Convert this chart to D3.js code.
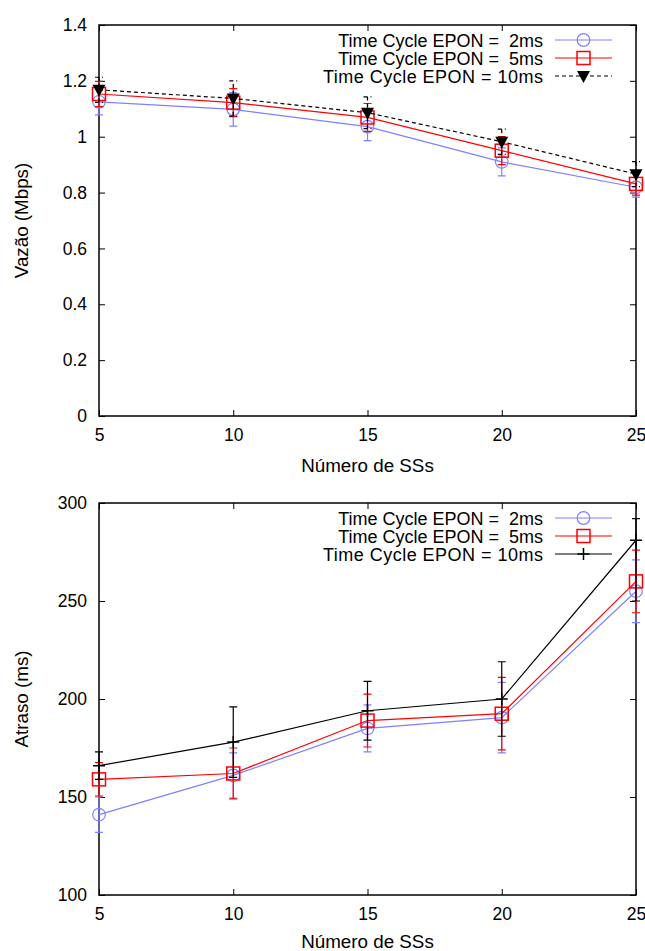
<!DOCTYPE html>
<html>
<head>
<meta charset="utf-8">
<script src="https://cdn.jsdelivr.net/npm/d3@7"></script>
<style>
  body { margin: 0; background: #fff; }
  text { font-family: "Liberation Sans", Arial, sans-serif; fill: #000; }
</style>
</head>
<body>
<script>
var w = 645;
var h = 951;
var fs = 18.8;
var legendFs = 18;
var tickFs = 17.5;

// data
var ssCounts = [5, 10, 15, 20, 25];
var seriesNames = ["Time Cycle EPON =  2ms", "Time Cycle EPON =  5ms", "Time Cycle EPON = 10ms"];

var vazao2 = [1.125, 1.098, 1.036, 0.910, 0.819];
var vazao5 = [1.153, 1.122, 1.069, 0.950, 0.831];
var vazao10 = [1.168, 1.137, 1.086, 0.982, 0.866];
var vazaoErr2 = [0.047, 0.060, 0.050, 0.050, 0.035];
var vazaoErr5 = [0.045, 0.050, 0.050, 0.050, 0.040];
var vazaoErr10 = [0.045, 0.063, 0.057, 0.045, 0.045];

var atraso2 = [141, 161, 185, 190.5, 255];
var atraso5 = [159, 162, 189, 192.5, 260];
var atraso10 = [166, 178, 194, 200, 281];
var atrasoLow2 = [9, 11.5, 12, 18, 16];
var atrasoHigh2 = [9, 11.5, 12, 18, 16];
var atrasoLow5 = [8.5, 13, 13.5, 18.5, 16];
var atrasoHigh5 = [8.5, 13, 13.5, 18.5, 16];
var atrasoLow10 = [7, 18, 15, 19, 31];
var atrasoHigh10 = [7, 18, 15, 19, 11];

var vazaoTicks = [0, 0.2, 0.4, 0.6, 0.8, 1, 1.2, 1.4];
var atrasoTicks = [100, 150, 200, 250, 300];

var svg = d3.select("body")
    .append("svg")
    .attr("width", w)
    .attr("height", h);

var colors = ["#8080ff", "#ff0000", "#000000"];

function makeSeries(vals, lo, hi) {
    return ssCounts.map(function(x, i) {
        return {x: x, y: vals[i], lo: vals[i] - lo[i], hi: vals[i] + hi[i]};
    });
}

function drawMarker(g, kind, color, cx, cy) {
    if (kind == "circle") {
        g.append("circle").attr("cx", cx).attr("cy", cy).attr("r", 6.3)
            .attr("fill", "none").attr("stroke", color).attr("stroke-width", 1.2);
    } else if (kind == "square") {
        g.append("rect").attr("x", cx - 6.5).attr("y", cy - 6.5)
            .attr("width", 13).attr("height", 13)
            .attr("fill", "none").attr("stroke", color).attr("stroke-width", 1.5);
    } else if (kind == "triangle") {
        g.append("path")
            .attr("d", "M" + (cx - 6.5) + "," + (cy - 5) + "L" + (cx + 6.5) + "," + (cy - 5) + "L" + cx + "," + (cy + 7) + "Z")
            .attr("fill", color);
    } else if (kind == "plus") {
        g.append("path")
            .attr("d", "M" + (cx - 6) + "," + cy + "H" + (cx + 6) + "M" + cx + "," + (cy - 6) + "V" + (cy + 6))
            .attr("stroke", color).attr("stroke-width", 1.5);
    }
}

function styleAxis(a) {
    a.select(".domain").remove();
    a.selectAll("line").attr("stroke", "#000");
    a.selectAll("text").attr("font-size", tickFs).attr("font-family", "Liberation Sans, Arial, sans-serif");
}

function chart(opts) {
    var top = opts.top, bottom = opts.bottom, left = 99, right = 636;
    var x = d3.scaleLinear().domain([5, 25]).range([left, right]);
    var y = d3.scaleLinear().domain(opts.domain).range([bottom, top]);
    var g = svg.append("g");

    // axes, with mirrored ticks on top and right
    g.append("g").attr("transform", "translate(0," + bottom + ")")
        .call(d3.axisBottom(x).tickValues(ssCounts).tickSize(-6).tickPadding(13))
        .call(styleAxis);
    g.append("g").attr("transform", "translate(0," + top + ")")
        .call(d3.axisTop(x).tickValues(ssCounts).tickSize(-6).tickFormat(""))
        .call(styleAxis);
    g.append("g").attr("transform", "translate(" + left + ",0)")
        .call(d3.axisLeft(y).tickValues(opts.ticks).tickSize(-6).tickPadding(12).tickFormat(opts.fmt))
        .call(styleAxis);
    g.append("g").attr("transform", "translate(" + right + ",0)")
        .call(d3.axisRight(y).tickValues(opts.ticks).tickSize(-6).tickFormat(""))
        .call(styleAxis);

    g.append("rect").attr("x", left).attr("y", top)
        .attr("width", right - left).attr("height", bottom - top)
        .attr("fill", "none").attr("stroke", "#000").attr("stroke-width", 1.5);

    // labels
    g.append("text").attr("x", (left + right) / 2).attr("y", bottom + opts.xlabOff)
        .attr("text-anchor", "middle").attr("font-size", fs).text("Número de SSs");
    g.append("text")
        .attr("transform", "translate(28," + ((top + bottom) / 2) + ") rotate(-90)")
        .attr("text-anchor", "middle").attr("font-size", fs).text(opts.ylabel);

    var line = d3.line().x(function(d) { return x(d.x); }).y(function(d) { return y(d.y); });

    opts.series.forEach(function(s, k) {
        var sg = g.append("g");
        sg.append("path").datum(s.data).attr("d", line)
            .attr("fill", "none").attr("stroke", colors[k]).attr("stroke-width", 1.2)
            .attr("stroke-dasharray", s.dash || null);
        sg.selectAll(".eb").data(s.data).enter().append("path")
            .attr("d", function(d) {
                var cx = x(d.x), y0 = y(d.lo), y1 = y(d.hi);
                return "M" + cx + "," + y0 + "V" + y1 + "M" + (cx - 4) + "," + y0 + "H" + (cx + 4) + "M" + (cx - 4) + "," + y1 + "H" + (cx + 4);
            })
            .attr("stroke", colors[k]).attr("stroke-width", 1.2).attr("fill", "none")
            .attr("stroke-dasharray", s.dash || null);
        s.data.forEach(function(d) { drawMarker(sg, s.marker, colors[k], x(d.x), y(d.y)); });

        // legend row
        var ly = top + 15 + k * 18;
        g.append("text").attr("x", 543).attr("y", ly + 6.5).attr("text-anchor", "end")
            .attr("font-size", legendFs).attr("textLength", k == 2 ? 220 : null)
            .style("white-space", "pre").text(seriesNames[k]);
        g.append("line").attr("x1", 555).attr("x2", 612).attr("y1", ly).attr("y2", ly)
            .attr("stroke", colors[k]).attr("stroke-width", 1.2)
            .attr("stroke-dasharray", s.dash || null);
        drawMarker(g, s.marker, colors[k], 583.5, ly);
    });
}

chart({
    top: 25, bottom: 416, domain: [0, 1.4], ticks: vazaoTicks,
    fmt: function(d) { return String(+d.toFixed(1)); },
    ylabel: "Vazão (Mbps)", xlabOff: 56,
    series: [
        {data: makeSeries(vazao2, vazaoErr2, vazaoErr2), marker: "circle"},
        {data: makeSeries(vazao5, vazaoErr5, vazaoErr5), marker: "square"},
        {data: makeSeries(vazao10, vazaoErr10, vazaoErr10), marker: "triangle", dash: "4,3"}
    ]
});

chart({
    top: 503, bottom: 895, domain: [100, 300], ticks: atrasoTicks,
    fmt: function(d) { return String(d); },
    ylabel: "Atraso (ms)", xlabOff: 53,
    series: [
        {data: makeSeries(atraso2, atrasoLow2, atrasoHigh2), marker: "circle"},
        {data: makeSeries(atraso5, atrasoLow5, atrasoHigh5), marker: "square"},
        {data: makeSeries(atraso10, atrasoLow10, atrasoHigh10), marker: "plus"}
    ]
});
</script>
</body>
</html>
